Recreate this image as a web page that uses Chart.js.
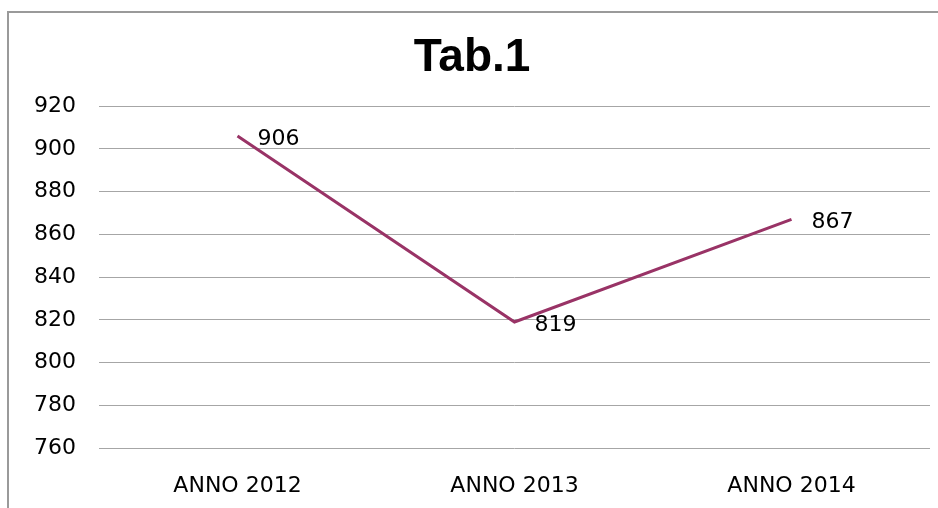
<!DOCTYPE html>
<html>
<head>
<meta charset="utf-8">
<script src="https://cdn.jsdelivr.net/npm/chart.js@4.4.0/dist/chart.umd.min.js"></script>
<style>
  html, body { margin: 0; padding: 0; background: #fff; overflow: hidden; }
  #frame { position: absolute; left: 7px; top: 11px; width: 1000px; height: 600px;
           border-left: 2px solid #9a9a9a; border-top: 2px solid #9a9a9a; }
  #wrap { position: absolute; left: 0; top: 0; width: 938px; height: 508px; }
</style>
</head>
<body>
<div id="frame"></div>
<div id="wrap"><canvas id="chart"></canvas></div>
<script>
// values
var categories = ["ANNO 2012", "ANNO 2013", "ANNO 2014"];
var values = [906, 819, 867];
var yTicks = [760, 780, 800, 820, 840, 860, 880, 900, 920];

// draw the value next to each point
var pointLabels = {
  id: "pointLabels",
  afterDatasetsDraw: function (chart) {
    var ctx = chart.ctx;
    var meta = chart.getDatasetMeta(0);
    ctx.save();
    ctx.font = "22px 'DejaVu Sans'";
    ctx.fillStyle = "#000";
    ctx.textAlign = "left";
    ctx.textBaseline = "middle";
    meta.data.forEach(function (pt, i) {
      ctx.fillText(String(values[i]), pt.x + 20, pt.y + 3);
    });
    ctx.restore();
  }
};

new Chart(document.getElementById("chart"), {
  type: "line",
  data: {
    labels: categories,
    datasets: [{
      label: "Tab.1",
      data: values,
      borderColor: "#993366",
      borderWidth: 3,
      pointRadius: 0,
      tension: 0,
      fill: false
    }]
  },
  options: {
    responsive: true,
    maintainAspectRatio: false,
    animation: false,
    layout: { padding: { left: 14, right: 8, top: 12, bottom: 8 } },
    plugins: {
      legend: { display: false },
      tooltip: { enabled: false },
      title: {
        display: true,
        text: "Tab.1",
        color: "#000",
        font: { family: "'Liberation Sans'", size: 46, weight: "bold" },
        padding: { top: 19, bottom: 20 }
      }
    },
    scales: {
      x: {
        offset: true,
        afterFit: function (scale) { scale.height = 52; },
        grid: { display: false },
        border: { display: false },
        ticks: {
          color: "#000",
          padding: 17,
          maxRotation: 0,
          font: { family: "'DejaVu Sans'", size: 22 }
        }
      },
      y: {
        min: yTicks[0],
        max: yTicks[yTicks.length - 1],
        afterFit: function (scale) { scale.width = 85; },
        afterBuildTicks: function (scale) {
          scale.ticks = yTicks.map(function (v) { return { value: v }; });
        },
        grid: { color: "#a6a6a6", lineWidth: 1, drawTicks: false },
        border: { display: false },
        ticks: {
          color: "#000",
          padding: 23,
          font: { family: "'DejaVu Sans'", size: 22 }
        }
      }
    }
  },
  plugins: [pointLabels]
});
</script>
</body>
</html>
